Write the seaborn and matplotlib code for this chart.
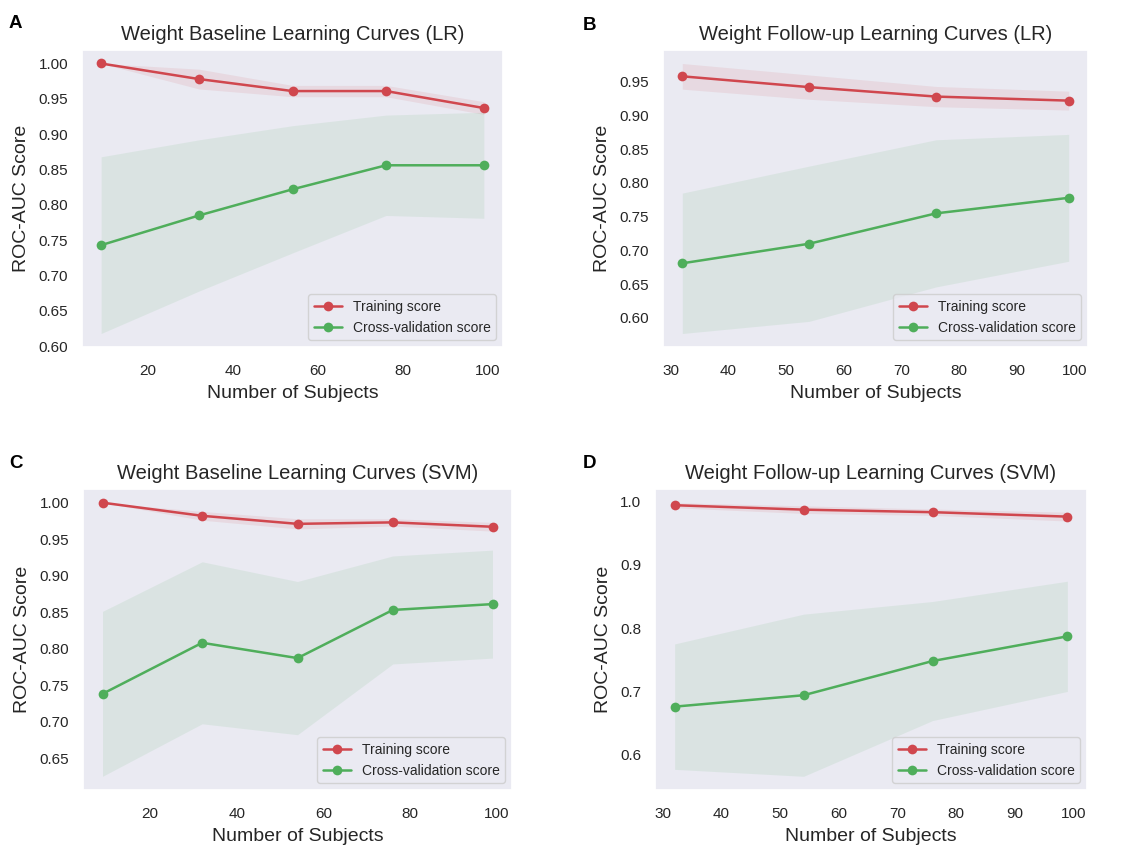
import matplotlib
matplotlib.use("Agg")
import matplotlib.pyplot as plt
from matplotlib.ticker import MultipleLocator
import numpy as np
import seaborn as sns

# Training-set sizes (number of subjects)
sizes_baseline = [9, 32, 54, 76, 99]
sizes_followup = [32, 54, 76, 99]

# (A) Baseline, logistic regression
lr_base_train_mean = [1.000, 0.978, 0.961, 0.961, 0.937]
lr_base_train_std = [0.000, 0.014, 0.008, 0.008, 0.009]
lr_base_cv_mean = [0.743, 0.785, 0.822, 0.856, 0.856]
lr_base_cv_std = [0.125, 0.107, 0.090, 0.071, 0.075]

# (B) Follow-up, logistic regression
lr_follow_train_mean = [0.958, 0.942, 0.928, 0.922]
lr_follow_train_std = [0.019, 0.018, 0.015, 0.014]
lr_follow_cv_mean = [0.681, 0.710, 0.755, 0.778]
lr_follow_cv_std = [0.104, 0.115, 0.109, 0.094]

# (C) Baseline, SVM
svm_base_train_mean = [1.000, 0.982, 0.971, 0.973, 0.967]
svm_base_train_std = [0.000, 0.006, 0.007, 0.005, 0.006]
svm_base_cv_mean = [0.738, 0.808, 0.787, 0.853, 0.861]
svm_base_cv_std = [0.113, 0.111, 0.105, 0.074, 0.074]

# (D) Follow-up, SVM
svm_follow_train_mean = [0.994, 0.987, 0.983, 0.976]
svm_follow_train_std = [0.004, 0.006, 0.005, 0.007]
svm_follow_cv_mean = [0.676, 0.694, 0.748, 0.787]
svm_follow_cv_std = [0.099, 0.128, 0.094, 0.087]

titles = [
    "Weight Baseline Learning Curves (LR)",
    "Weight Follow-up Learning Curves (LR)",
    "Weight Baseline Learning Curves (SVM)",
    "Weight Follow-up Learning Curves (SVM)",
]
panel_letters = ["A", "B", "C", "D"]

sns.set_theme(style="dark")
plt.rcParams["font.family"] = ["Liberation Sans", "DejaVu Sans"]

RED = "#D0474E"
GREEN = "#4FAE5B"
TEXT = "#262626"

W, H = 1132, 846
fig = plt.figure(figsize=(W / 100, H / 100), dpi=100)


def px_axes(left, top, right, bottom):
    return fig.add_axes([left / W, 1 - bottom / H, (right - left) / W, (bottom - top) / H])


axes = [
    px_axes(82, 50, 503, 347),
    px_axes(663, 50, 1088, 347),
    px_axes(83, 489, 512, 790),
    px_axes(655, 489, 1087, 790),
]

panels = [
    (sizes_baseline, lr_base_train_mean, lr_base_train_std, lr_base_cv_mean, lr_base_cv_std, 0.05, 20),
    (sizes_followup, lr_follow_train_mean, lr_follow_train_std, lr_follow_cv_mean, lr_follow_cv_std, 0.05, 10),
    (sizes_baseline, svm_base_train_mean, svm_base_train_std, svm_base_cv_mean, svm_base_cv_std, 0.05, 20),
    (sizes_followup, svm_follow_train_mean, svm_follow_train_std, svm_follow_cv_mean, svm_follow_cv_std, 0.1, 10),
]

for ax, title, (sizes, tr_m, tr_s, cv_m, cv_s, ystep, xstep) in zip(axes, titles, panels):
    x = np.asarray(sizes)
    tr_m, tr_s = np.asarray(tr_m), np.asarray(tr_s)
    cv_m, cv_s = np.asarray(cv_m), np.asarray(cv_s)

    ax.fill_between(x, tr_m - tr_s, tr_m + tr_s, color=RED, alpha=0.1, linewidth=0)
    ax.fill_between(x, cv_m - cv_s, cv_m + cv_s, color=GREEN, alpha=0.1, linewidth=0)
    sns.lineplot(x=x, y=tr_m, ax=ax, color=RED, marker="o", markersize=7,
                 markeredgewidth=0, linewidth=1.8, label="Training score")
    sns.lineplot(x=x, y=cv_m, ax=ax, color=GREEN, marker="o", markersize=7,
                 markeredgewidth=0, linewidth=1.8, label="Cross-validation score")

    ax.yaxis.set_major_locator(MultipleLocator(ystep))
    ax.xaxis.set_major_locator(MultipleLocator(xstep))
    ax.tick_params(axis="y", labelsize=11, pad=10, colors=TEXT, length=0)
    ax.tick_params(axis="x", labelsize=11, pad=12, colors=TEXT, length=0)
    ax.set_title(title, fontsize=14.5, color=TEXT, pad=7)
    ax.set_xlabel("Number of Subjects", fontsize=14, color=TEXT, labelpad=5)
    ax.set_ylabel("ROC-AUC Score", fontsize=14, color=TEXT, labelpad=6)
    ax.legend(loc="lower right", fontsize=10)

# Restrict x tick labels to the data range used in each panel
for ax in axes[:1] + axes[2:3]:
    ax.set_xticks([20, 40, 60, 80, 100])
for ax in (axes[1], axes[3]):
    ax.set_xticks([30, 40, 50, 60, 70, 80, 90, 100])

letter_pos = [(9, 24), (583, 25), (9, 463), (583, 463)]
for letter, (lx, ly) in zip(panel_letters, letter_pos):
    fig.text(lx / W, 1 - ly / H, letter, fontsize=13.5, fontweight="bold",
             ha="left", va="center", color="black")

fig.savefig("out.png", dpi=100)
